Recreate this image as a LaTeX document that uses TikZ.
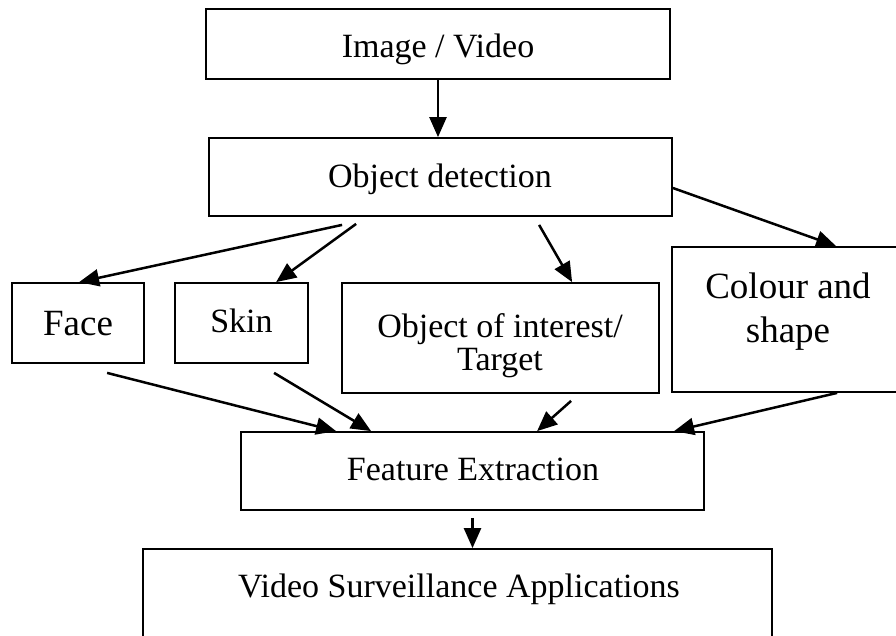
\documentclass[tikz,border=0pt]{standalone}
\usepackage{fontspec}
\setmainfont{Liberation Serif}
\usetikzlibrary{arrows.meta}
\begin{document}
\begin{tikzpicture}[x=1pt,y=-1pt,
  box/.style={draw=black, line width=1.8pt, inner sep=0pt, rectangle},
  lbl/.style={anchor=base, inner sep=0pt, font=\fontsize{34}{36}\selectfont},
  lblbig/.style={anchor=base, inner sep=0pt, font=\fontsize{37}{40}\selectfont},
  lblskin/.style={anchor=base, inner sep=0pt, font=\fontsize{34}{36}\selectfont},
  conn/.style={line width=2.5pt, -{Triangle[length=20pt,width=17pt]}}]
\useasboundingbox (0,0) rectangle (896,635);
\clip (0,0) rectangle (896,635);
\fill[white] (0,0) rectangle (896,635);

% boxes
\node[box, minimum width=464pt, minimum height=70pt]  (img)  at (438,44) {};
\node[box, minimum width=463pt, minimum height=78pt]  (od)   at (440.5,177) {};
\node[box, minimum width=132pt, minimum height=80pt]  (face) at (78,323) {};
\node[box, minimum width=133pt, minimum height=80pt]  (skin) at (241.5,323) {};
\node[box, minimum width=317pt, minimum height=110pt] (ooi)  at (500.5,338) {};
\node[box, minimum width=232pt, minimum height=145pt] (col)  at (788,319.5) {};
\node[box, minimum width=463pt, minimum height=78pt]  (fe)   at (472.5,471) {};
\node[box, minimum width=629pt, minimum height=111pt] (vsa)  at (457.5,604.5) {};

% texts
\node[lbl]     (imgt)  at (438,57)  {Image / Video};
\node[lbl]     (odt)   at (440,187) {Object detection};
\node[lblbig]  (facet) at (78,335)  {Face};
\node[lblskin] (skint) at (241.5,332) {Skin};
\node[lbl]     (ooit1) at (500,337) {Object of interest/};
\node[lbl]     (ooit2) at (500,370) {Target};
\node[lblbig]  (colt1) at (788,298) {Colour and};
\node[lblbig]  (colt2) at (788,342) {shape};
\node[lbl]     (fet)   at (473,480) {Feature Extraction};
\node[lbl]     (vsat)  at (459,597) {Video Surveillance Applications};

% free connector ends
\coordinate (odF)   at ([xshift=134pt,yshift=-8pt]od.south west);
\coordinate (odS)   at ([xshift=148pt,yshift=-7pt]od.south west);
\coordinate (odO)   at ([xshift=331pt,yshift=-8pt]od.south west);
\coordinate (faceO) at ([xshift=96pt,yshift=-9pt]face.south west);
\coordinate (skinO) at ([xshift=100pt,yshift=-9pt]skin.south west);
\coordinate (ooiO)  at ([xshift=230pt,yshift=-7pt]ooi.south west);
\coordinate (feO)   at ([yshift=-7pt]fe.south);

% connectors
\draw[conn] (img.south) -- (img.south |- od.north);
\draw[conn] (odF) -- ([xshift=68pt]face.north west);
\draw[conn] (odS) -- ([xshift=102pt]skin.north west);
\draw[conn] (odO) -- ([xshift=231pt]ooi.north west);
\draw[conn] ([yshift=-11pt]od.east) -- ([xshift=165pt]col.north west);
\draw[conn] (faceO) -- ([xshift=96pt]fe.north west);
\draw[conn] (skinO) -- ([xshift=131pt]fe.north west);
\draw[conn] (ooiO) -- ([xshift=297pt]fe.north west);
\draw[conn] ([xshift=166pt]col.south west) -- ([xshift=434pt]fe.north west);
\draw[conn] (feO) -- (feO |- vsa.north);
\end{tikzpicture}
\end{document}
